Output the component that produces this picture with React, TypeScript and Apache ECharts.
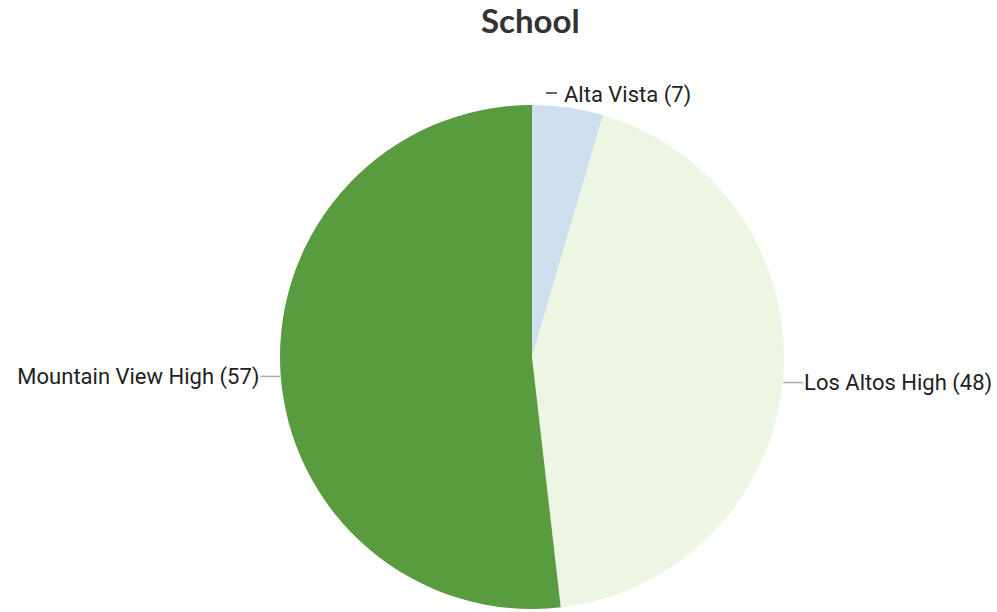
import React, { useEffect, useRef } from "react";
import * as echarts from "echarts";

const schools = ["Alta Vista", "Los Altos High", "Mountain View High"];
// counts printed in the labels
const labelCounts = [7, 48, 57];
const sliceValues = [5, 48, 57];
const colors = ["#cddfec", "#edf6e2", "#599c3f"];

export default function App() {
  const ref = useRef<HTMLDivElement>(null);
  useEffect(() => {
    document.body.style.margin = "0";
    const chart = echarts.init(ref.current!, undefined, { renderer: "svg" });
    const data = schools.map((name, i) => ({
      name,
      value: sliceValues[i],
      itemStyle: { color: colors[i] },
      labelLine:
        i === 0
          ? { lineStyle: { color: "#333", width: 1.5 } }
          : undefined,
    }));
    chart.setOption({
      animation: false,
      title: {
        text: "School",
        left: 481,
        top: 3,
        padding: 0,
        textStyle: {
          fontFamily: "Lato",
          fontWeight: "bold",
          fontSize: 33,
          color: "#333",
        },
      },
      series: [
        {
          type: "pie",
          center: [532, 357],
          radius: 252,
          startAngle: 90,
          clockwise: true,
          data,
          label: {
            show: true,
            formatter: (p: any) => `${p.name} (${labelCounts[p.dataIndex]})`,
            fontFamily: "Roboto",
            fontSize: 22,
            color: "#222",
            distanceToLabelLine: 1,
            overflow: "none",
          },
          labelLine: {
            show: true,
            length: 0,
            length2: 20,
            lineStyle: { color: "#aaa", width: 1.5 },
          },
          labelLayout: (params: any) => {
            if (params.dataIndex === 0) {
              return {
                x: 564,
                y: 94,
                align: "left",
                verticalAlign: "middle",
                labelLinePoints: [
                  [546, 93],
                  [557, 93],
                ],
              };
            }
            const dy = params.dataIndex === 1 ? 4 : 5;
            const pts = (params.labelLinePoints || []).map((p: number[]) => [
              p[0],
              p[1] + dy,
            ]);
            return {
              y: params.labelRect.y + params.labelRect.height / 2 + dy,
              verticalAlign: "middle",
              labelLinePoints: pts,
            };
          },
        },
      ],
    });
    return () => chart.dispose();
  }, []);
  return <div ref={ref} style={{ width: 997, height: 612 }} />;
}
